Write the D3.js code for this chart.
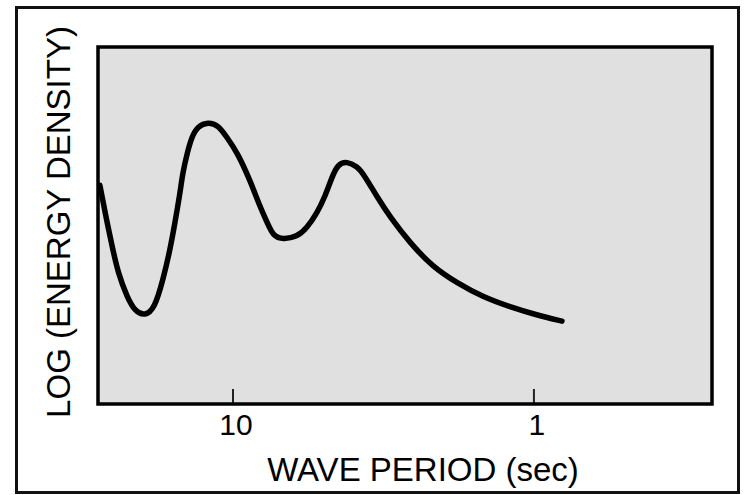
<!DOCTYPE html>
<html>
<head>
<meta charset="utf-8">
<title>Wave energy spectrum</title>
<style>
  body { margin: 0; background: #fff; }
  text { font-family: "Liberation Sans", Arial, sans-serif; fill: #000; }
</style>
</head>
<body>
<svg width="744" height="495"></svg>
<script src="https://cdn.jsdelivr.net/npm/d3@7"></script>
<script>
// wave period (sec) along the curve
var period = [27.7, 26.6, 25.2, 24.1, 22.5, 21.2, 19.6, 18.2, 17.1, 16.2, 15.6,
              15.0, 14.7, 14.2, 13.7, 13.1, 12.1, 11.2, 10.5, 9.70, 8.78, 8.13,
              7.71, 7.36, 6.82, 6.13, 5.68, 5.26, 4.95, 4.69, 4.48, 4.18, 3.87,
              3.70, 3.32, 3.01, 2.58, 2.17, 1.80, 1.48, 1.20, 0.977, 0.807];
// relative log energy density (0 = bottom of plot, 100 = top)
var energy = [61.3, 53.5, 44.0, 36.7, 30.0, 26.0, 24.6, 26.9, 34.7, 43.1, 50.7,
              59.1, 64.7, 70.3, 74.9, 77.8, 79.0, 78.1, 74.8, 70.6, 62.7, 55.2,
              51.0, 47.0, 46.1, 46.8, 49.3, 53.5, 58.0, 63.6, 67.2, 68.0, 66.5,
              64.7, 58.0, 52.4, 45.1, 38.4, 33.9, 30.0, 27.2, 24.9, 23.2];
var tickValues = [10, 1];
var tickLabels = ["10", "1"];

var svg = d3.select("svg");

// plot panel edges (window.top is taken, so prefix them)
var pLeft = 98, pRight = 712, pTop = 47, pBottom = 404;

// outer frame
svg.append("rect")
    .attr("x", 16.5).attr("y", 7.5)
    .attr("width", 722).attr("height", 485)
    .attr("fill", "#fff")
    .attr("stroke", "#111")
    .attr("stroke-width", 3);

// log x axis, long periods on the left
var x = d3.scaleLog()
    .domain([28.1, 0.256])
    .range([pLeft, pRight]);

var y = d3.scaleLinear()
    .domain([0, 100])
    .range([pBottom, pTop]);

// plot panel
svg.append("rect")
    .attr("x", pLeft).attr("y", pTop)
    .attr("width", pRight - pLeft).attr("height", pBottom - pTop)
    .attr("fill", "#e0e0e0");

// tick marks pointing into the plot
svg.selectAll(".tick")
    .data(tickValues)
  .enter().append("line")
    .attr("class", "tick")
    .attr("x1", function(d) { return x(d); })
    .attr("x2", function(d) { return x(d); })
    .attr("y1", pBottom)
    .attr("y2", pBottom - 15)
    .attr("stroke", "#222")
    .attr("stroke-width", 2);

// curve (basis spline smooths out the hand-read wobble)
var line = d3.line()
    .x(function(d, i) { return x(period[i]); })
    .y(function(d, i) { return y(energy[i]); })
    .curve(d3.curveBasis);

svg.append("path")
    .datum(period)
    .attr("d", line)
    .attr("fill", "none")
    .attr("stroke", "#000")
    .attr("stroke-width", 5.5)
    .attr("stroke-linecap", "round")
    .attr("stroke-linejoin", "round");

// panel border
svg.append("rect")
    .attr("x", pLeft).attr("y", pTop)
    .attr("width", pRight - pLeft).attr("height", pBottom - pTop)
    .attr("fill", "none")
    .attr("stroke", "#000")
    .attr("stroke-width", 3.5);

// tick labels
svg.selectAll(".tlabel")
    .data(tickValues)
  .enter().append("text")
    .attr("class", "tlabel")
    .attr("x", function(d) { return x(d) + 3; })
    .attr("y", 435)
    .attr("text-anchor", "middle")
    .attr("font-size", 30)
    .text(function(d, i) { return tickLabels[i]; });

// axis titles
svg.append("text")
    .attr("x", 423)
    .attr("y", 481)
    .attr("text-anchor", "middle")
    .attr("font-size", 33)
    .text("WAVE PERIOD (sec)");

svg.append("text")
    .attr("transform", "translate(70,222) rotate(-90)")
    .attr("text-anchor", "middle")
    .attr("font-size", 33)
    .text("LOG (ENERGY DENSITY)");
</script>
</body>
</html>
